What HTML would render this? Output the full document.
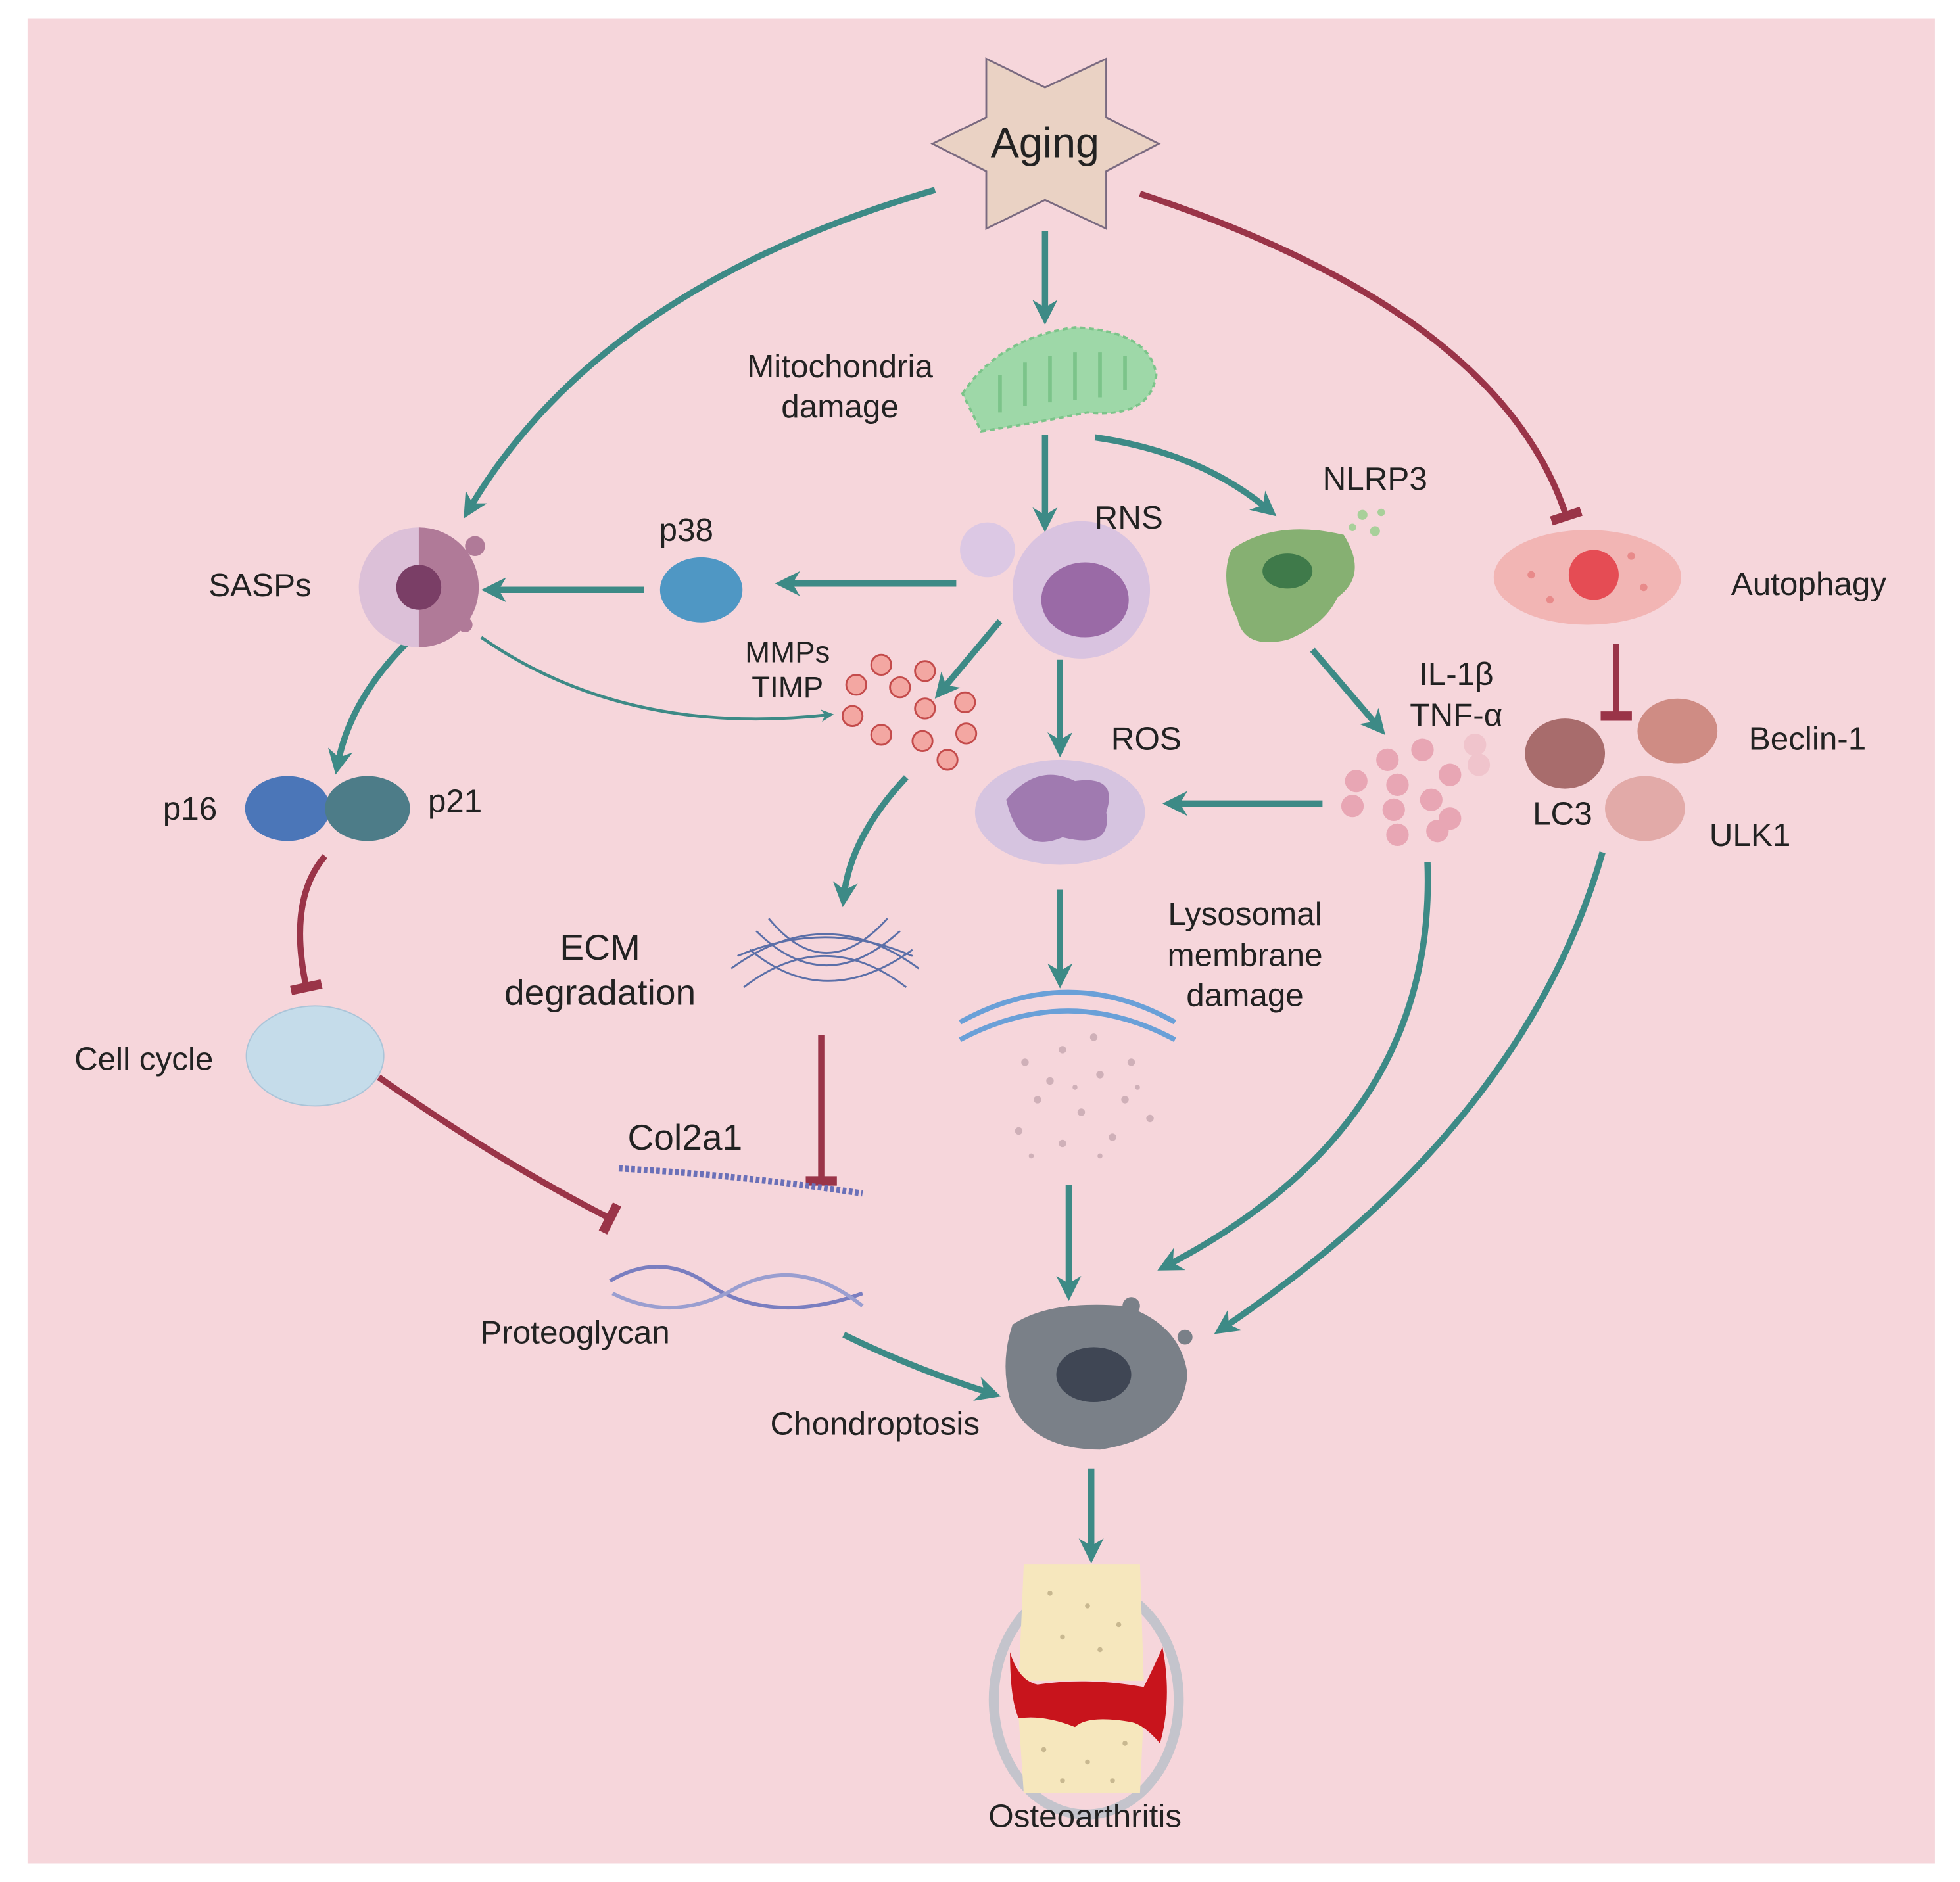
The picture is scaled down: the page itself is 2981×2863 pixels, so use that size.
<!DOCTYPE html>
<html><head><meta charset="utf-8"><style>
html,body{margin:0;padding:0;background:#fff;}
svg{display:block;}
text{font-family:"Liberation Sans",sans-serif;fill:#222;}
</style></head><body>
<svg width="2981" height="2863" viewBox="0 0 1568 1506" xmlns="http://www.w3.org/2000/svg">
<defs>
<marker id="ta" viewBox="0 0 10 10" refX="6" refY="5" markerWidth="4" markerHeight="4" orient="auto"><path d="M0,0 L10,5 L0,10 L3,5 Z" fill="#3d8a86"/></marker>
<marker id="tb" viewBox="0 0 10 10" refX="5" refY="5" markerWidth="5" markerHeight="5" orient="auto"><path d="M5,0 L5,10" stroke="#9a3448" stroke-width="3"/></marker>
</defs>
<rect x="22" y="15" width="1526" height="1476" fill="#f6d6db"/>
<!-- Star -->
<polygon points="789,47 836,70 885,47 885,94 927,115 885,137 885,183 836,160 789,183 789,137 746,115 789,94" fill="#ead2c4" stroke="#7a6a80" stroke-width="1.5"/>
<text x="836" y="126" font-size="34" text-anchor="middle">Aging</text>

<g fill="none" stroke="#3d8a86" stroke-width="5" marker-end="url(#ta)">
<path d="M748,152 Q480,230 375,408"/>
<path d="M836,185 L836,252"/>
<path d="M836,348 L836,418"/>
<path d="M876,350 Q960,362 1015,408"/>
<path d="M765,467 L628,467"/>
<path d="M515,472 L393,472"/>
<path d="M800,497 L753,553"/>
<path d="M848,528 L848,598"/>
<path d="M325,515 Q280,560 270,612"/>
<path d="M725,622 Q680,670 675,718"/>
<path d="M1050,520 L1103,582"/>
<path d="M1058,643 L938,643"/>
<path d="M848,712 L848,783"/>
<path d="M855,948 L855,1033"/>
<path d="M1142,690 Q1150,900 933,1013"/>
<path d="M1282,682 Q1220,900 978,1063"/>
<path d="M675,1068 Q730,1095 793,1115"/>
<path d="M873,1175 L873,1243"/>
</g>
<path d="M385,510 Q500,590 663,572" fill="none" stroke="#3d8a86" stroke-width="2.5" marker-end="url(#ta)"/>
<g fill="none" stroke="#9a3448" stroke-width="5" marker-end="url(#tb)">
<path d="M912,155 Q1200,250 1253,413"/>
<path d="M260,685 Q230,720 245,790"/>
<path d="M657,828 L657,945"/>
<path d="M1293,515 L1293,573"/>
<path d="M303,862 Q400,930 488,975"/>
</g>

<!-- Mitochondria -->
<path d="M770,315 Q800,270 860,262 Q920,265 925,300 Q920,335 870,330 Q820,340 785,345 Z" fill="#9ed8a8" stroke="#7cc48a" stroke-width="2" stroke-dasharray="4,3"/>
<g stroke="#7cc48a" stroke-width="3"><path d="M800,300 L800,330"/><path d="M820,290 L820,325"/><path d="M840,285 L840,322"/><path d="M860,282 L860,320"/><path d="M880,282 L880,318"/><path d="M900,285 L900,312"/></g>
<text x="672" y="302" font-size="26" text-anchor="middle">Mitochondria</text>
<text x="672" y="334" font-size="26" text-anchor="middle">damage</text>

<!-- SASPs cell -->
<circle cx="335" cy="470" r="48" fill="#dcc0d8"/>
<path d="M335,422 A48,48 0 0 1 335,518 Z" fill="#b07a98"/>
<circle cx="380" cy="437" r="8" fill="#b07a98"/><circle cx="372" cy="500" r="6" fill="#b07a98"/>
<circle cx="335" cy="470" r="18" fill="#7a3e66"/>
<text x="208" y="477" font-size="26" text-anchor="middle">SASPs</text>
<!-- p38 -->
<ellipse cx="561" cy="472" rx="33" ry="26" fill="#4f97c4"/>
<text x="549" y="433" font-size="26" text-anchor="middle">p38</text>
<!-- RNS cell -->
<circle cx="865" cy="472" r="55" fill="#d9c3e0"/>
<circle cx="790" cy="440" r="22" fill="#dcc8e4"/>
<ellipse cx="868" cy="480" rx="35" ry="30" fill="#9a6aa6"/>
<text x="903" y="423" font-size="26" text-anchor="middle">RNS</text>
<!-- NLRP3 -->
<path d="M985,440 Q1020,415 1075,428 Q1095,460 1070,478 Q1060,500 1030,512 Q995,520 990,495 Q975,465 985,440Z" fill="#86b072"/>
<ellipse cx="1030" cy="457" rx="20" ry="14" fill="#3f7a4a"/>
<g fill="#a8d09a"><circle cx="1090" cy="412" r="4"/><circle cx="1100" cy="425" r="4"/><circle cx="1082" cy="422" r="3"/><circle cx="1105" cy="410" r="3"/></g>
<text x="1100" y="392" font-size="26" text-anchor="middle">NLRP3</text>
<!-- Autophagy -->
<ellipse cx="1270" cy="462" rx="75" ry="38" fill="#f2b5b4"/>
<circle cx="1275" cy="460" r="20" fill="#e54c54"/>
<g fill="#e88a8a"><circle cx="1225" cy="460" r="3"/><circle cx="1315" cy="470" r="3"/><circle cx="1240" cy="480" r="3"/><circle cx="1305" cy="445" r="3"/></g>
<text x="1447" y="476" font-size="26" text-anchor="middle">Autophagy</text>
<!-- MMPs -->
<text x="630" y="530" font-size="24" text-anchor="middle">MMPs</text>
<text x="630" y="558" font-size="24" text-anchor="middle">TIMP</text>
<g fill="#f3a7a2" stroke="#c44b4b" stroke-width="1.5">
<circle cx="705" cy="532" r="8"/><circle cx="685" cy="548" r="8"/><circle cx="720" cy="550" r="8"/><circle cx="740" cy="537" r="8"/><circle cx="772" cy="562" r="8"/><circle cx="740" cy="567" r="8"/><circle cx="682" cy="573" r="8"/><circle cx="705" cy="588" r="8"/><circle cx="738" cy="593" r="8"/><circle cx="773" cy="587" r="8"/><circle cx="758" cy="608" r="8"/>
</g>
<!-- p16 p21 -->
<ellipse cx="230" cy="647" rx="34" ry="26" fill="#4b76b8"/>
<ellipse cx="294" cy="647" rx="34" ry="26" fill="#4d7c88"/>
<text x="152" y="656" font-size="26" text-anchor="middle">p16</text>
<text x="364" y="650" font-size="26" text-anchor="middle">p21</text>
<!-- ROS -->
<ellipse cx="848" cy="650" rx="68" ry="42" fill="#d6c4e0"/>
<path d="M805,640 Q830,610 860,625 Q895,620 885,650 Q890,680 850,670 Q815,685 805,640Z" fill="#a07ab0"/>
<text x="917" y="600" font-size="26" text-anchor="middle">ROS</text>
<!-- IL-1b -->
<text x="1165" y="548" font-size="26" text-anchor="middle">IL-1β</text>
<text x="1165" y="581" font-size="26" text-anchor="middle">TNF-α</text>
<g fill="#e8a6b4">
<circle cx="1085" cy="625" r="9"/><circle cx="1110" cy="608" r="9"/><circle cx="1138" cy="600" r="9"/><circle cx="1160" cy="620" r="9"/><circle cx="1118" cy="628" r="9"/><circle cx="1082" cy="645" r="9"/><circle cx="1115" cy="648" r="9"/><circle cx="1145" cy="640" r="9"/><circle cx="1160" cy="655" r="9"/><circle cx="1118" cy="668" r="9"/><circle cx="1150" cy="665" r="9"/><circle cx="1183" cy="612" r="9" fill="#f0c4cc"/><circle cx="1180" cy="596" r="9" fill="#f0c4cc"/>
</g>
<!-- Beclin etc -->
<ellipse cx="1252" cy="603" rx="32" ry="28" fill="#a86c6c"/>
<ellipse cx="1342" cy="585" rx="32" ry="26" fill="#cf8c84"/>
<ellipse cx="1316" cy="647" rx="32" ry="26" fill="#e2aaa8"/>
<text x="1446" y="600" font-size="26" text-anchor="middle">Beclin-1</text>
<text x="1250" y="660" font-size="26" text-anchor="middle">LC3</text>
<text x="1400" y="677" font-size="26" text-anchor="middle">ULK1</text>
<!-- ECM -->
<text x="480" y="768" font-size="29" text-anchor="middle">ECM</text>
<text x="480" y="804" font-size="29" text-anchor="middle">degradation</text>
<g fill="none" stroke="#5b6fa8" stroke-width="1.5">
<path d="M585,775 Q660,720 735,775"/><path d="M590,765 Q660,735 730,765"/><path d="M595,790 Q660,740 725,790"/><path d="M605,745 Q660,800 720,745"/><path d="M600,760 Q660,810 730,760"/><path d="M615,735 Q660,790 710,735"/>
</g>
<!-- Lysosomal -->
<text x="996" y="740" font-size="26" text-anchor="middle">Lysosomal</text>
<text x="996" y="773" font-size="26" text-anchor="middle">membrane</text>
<text x="996" y="805" font-size="26" text-anchor="middle">damage</text>
<path d="M768,818 Q855,770 940,818" fill="none" stroke="#6aa0d8" stroke-width="4"/>
<path d="M768,832 Q855,786 940,832" fill="none" stroke="#6aa0d8" stroke-width="4"/>
<g fill="#cfb0b8">
<circle cx="820" cy="850" r="3"/><circle cx="850" cy="840" r="3"/><circle cx="880" cy="860" r="3"/><circle cx="905" cy="850" r="3"/><circle cx="830" cy="880" r="3"/><circle cx="865" cy="890" r="3"/><circle cx="900" cy="880" r="3"/><circle cx="815" cy="905" r="3"/><circle cx="850" cy="915" r="3"/><circle cx="890" cy="910" r="3"/><circle cx="920" cy="895" r="3"/><circle cx="840" cy="865" r="3"/><circle cx="875" cy="830" r="3"/><circle cx="860" cy="870" r="2"/><circle cx="910" cy="870" r="2"/><circle cx="825" cy="925" r="2"/><circle cx="880" cy="925" r="2"/>
</g>
<!-- Cell cycle -->
<ellipse cx="252" cy="845" rx="55" ry="40" fill="#c5dcea" stroke="#aac4d8"/>
<text x="115" y="856" font-size="26" text-anchor="middle">Cell cycle</text>
<!-- Col2a1 -->
<text x="548" y="920" font-size="29" text-anchor="middle">Col2a1</text>
<path d="M495,935 Q590,940 690,955" fill="none" stroke="#6a70b8" stroke-width="5" stroke-dasharray="3,2"/>
<!-- Proteoglycan -->
<path d="M488,1025 Q530,1000 570,1030 Q620,1060 690,1035" fill="none" stroke="#7a7ec0" stroke-width="3"/>
<path d="M490,1035 Q540,1060 590,1030 Q640,1005 690,1045" fill="none" stroke="#9a9ed0" stroke-width="3"/>
<text x="460" y="1075" font-size="26" text-anchor="middle">Proteoglycan</text>
<!-- Chondroptosis cell -->
<path d="M810,1060 Q840,1040 900,1045 Q945,1060 950,1100 Q945,1150 880,1160 Q825,1160 808,1120 Q800,1090 810,1060Z" fill="#7a8088"/>
<circle cx="905" cy="1045" r="7" fill="#7a8088"/><circle cx="948" cy="1070" r="6" fill="#7a8088"/>
<ellipse cx="875" cy="1100" rx="30" ry="22" fill="#3f4654"/>
<text x="700" y="1148" font-size="26" text-anchor="middle">Chondroptosis</text>
<!-- Joint -->
<ellipse cx="869" cy="1360" rx="74" ry="92" fill="none" stroke="#c4c4cc" stroke-width="8"/>
<path d="M819,1252 L912,1252 L915,1345 L815,1345Z" fill="#f6e7bd"/>
<path d="M815,1375 L915,1370 L912,1435 L819,1435Z" fill="#f6e7bd"/>
<path d="M808,1322 Q815,1345 830,1348 Q870,1342 915,1350 Q925,1330 930,1318 Q938,1360 928,1395 Q915,1380 905,1378 Q870,1372 860,1382 Q835,1372 815,1375 Q808,1360 808,1322Z" fill="#c8141c"/>
<g fill="#c8b890"><circle cx="840" cy="1275" r="2"/><circle cx="870" cy="1285" r="2"/><circle cx="895" cy="1300" r="2"/><circle cx="850" cy="1310" r="2"/><circle cx="880" cy="1320" r="2"/><circle cx="835" cy="1400" r="2"/><circle cx="870" cy="1410" r="2"/><circle cx="900" cy="1395" r="2"/><circle cx="850" cy="1425" r="2"/><circle cx="890" cy="1425" r="2"/></g>
<text x="868" y="1462" font-size="26" text-anchor="middle">Osteoarthritis</text>
</svg>
</body></html>
